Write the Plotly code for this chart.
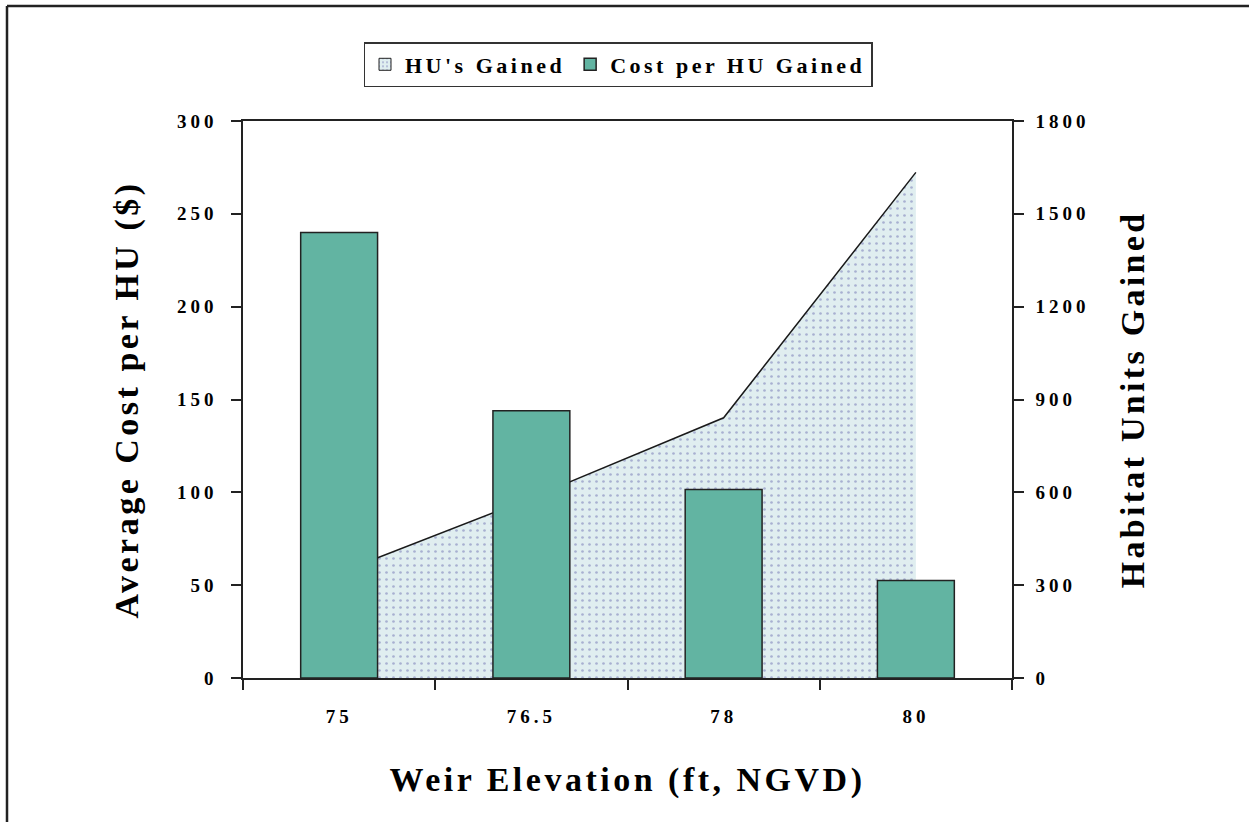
import plotly.graph_objects as go

categories = ["75", "76.5", "78", "80"]
cost_per_hu = [240, 144, 101.5, 52.5]
hu_gained = [340, 582, 841, 1634]
left_ticks = [0, 50, 100, 150, 200, 250, 300]
right_ticks = [0, 300, 600, 900, 1200, 1500, 1800]

FONT = "Liberation Serif"
W, H = 1249, 822
L, R, T, B = 243, 1012, 121, 678

def px(x):
    return (x - L) / (R - L)

def py(y):
    return (B - y) / (B - T)

AREA_BG = "#e0eef0"
AREA_DOT = "#6f72b2"
BAR = "#62b4a2"

fig = go.Figure()

# legend swatch for the area series (no data drawn)
fig.add_trace(go.Bar(
    x=[None], y=[None], name="HU's Gained",
    marker=dict(color=AREA_BG, line=dict(color="#222222", width=1),
                pattern=dict(shape=".", fgcolor=AREA_DOT, bgcolor=AREA_BG, size=5, solidity=0.2)),
    yaxis="y", xaxis="x", showlegend=True,
))
# area on base axis (drawn beneath), HU on right side
fig.add_trace(go.Scatter(
    x=categories, y=hu_gained, name="HU's Gained", mode="lines",
    line=dict(color="#1a1a1a", width=1.5), fill="tozeroy",
    fillcolor=AREA_BG,
    fillpattern=dict(shape=".", fgcolor=AREA_DOT, bgcolor=AREA_BG, size=7, solidity=0.12),
    yaxis="y", xaxis="x", showlegend=False,
))
# bars on overlay axis (drawn on top), cost on left side
fig.add_trace(go.Bar(
    x=categories, y=cost_per_hu, name="Cost per HU Gained",
    marker=dict(color=BAR, line=dict(color="#222222", width=1.5)),
    width=0.4, yaxis="y2", xaxis="x",
))

tickfont = dict(family=FONT, size=19, color="black", weight="bold")
titlefont = dict(family=FONT, size=34, color="black", weight="bold")

fig.update_layout(
    width=W, height=H,
    margin=dict(l=L, r=W - R, t=T, b=H - B),
    paper_bgcolor="white", plot_bgcolor="white",
    showlegend=True, barmode="overlay",
    legend=dict(
        orientation="h", x=px(618), xanchor="center", y=py(42), yanchor="top",
        font=dict(family=FONT, size=22, color="black", weight="bold"),
        bordercolor="#333333", borderwidth=1.5, bgcolor="white",
        traceorder="normal", itemwidth=30,
    ),
    xaxis=dict(
        type="category", showline=True, linecolor="#222", linewidth=1.5,
        ticks="outside", tickson="boundaries", ticklen=10, tickwidth=1.5, tickcolor="#222",
        tickfont=tickfont, showgrid=False, zeroline=False, mirror=True,
        ticklabelstandoff=20,
        title=dict(text="Weir Elevation (ft, NGVD)", font=titlefont, standoff=42),
        range=[-0.5, 3.5],
    ),
    yaxis=dict(
        side="right", range=[0, 1800], tickvals=right_ticks,
        showline=True, linecolor="#222", linewidth=1.5,
        ticks="outside", ticklen=10, tickwidth=1.5, tickcolor="#222",
        tickfont=tickfont, showgrid=False, zeroline=False, ticklabelstandoff=8,
        title=dict(text="Habitat Units Gained", font=titlefont, standoff=48),
    ),
    yaxis2=dict(
        side="left", overlaying="y", range=[0, 300], tickvals=left_ticks,
        showline=True, linecolor="#222", linewidth=1.5,
        ticks="outside", ticklen=10, tickwidth=1.5, tickcolor="#222",
        tickfont=tickfont, showgrid=False, zeroline=False, ticklabelstandoff=10,
        title=dict(text="Average Cost per HU ($)", font=titlefont, standoff=40),
    ),
    shapes=[
        dict(type="line", xref="paper", yref="paper", x0=px(7), x1=px(1249), y0=py(6), y1=py(6),
             line=dict(color="#222", width=2.5)),
        dict(type="line", xref="paper", yref="paper", x0=px(7), x1=px(7), y0=py(6), y1=py(822),
             line=dict(color="#222", width=2.5)),
    ],
)

post = """
var gd = document.getElementById('{plot_id}');
document.body.style.margin = '0';
var s = document.createElement('style');
s.innerHTML = '.legendtext{letter-spacing:3.5px} .xtick text,.ytick text,.y2tick text{letter-spacing:4px} .xtitle{letter-spacing:3.5px} .ytitle{letter-spacing:3.3px} .y2title{letter-spacing:3.5px}';
document.head.appendChild(s);
gd.layout.legend.font.family = 'Liberation Serif, serif';
Plotly.newPlot(gd, gd.data, gd.layout, {displayModeBar: false, responsive: false});
"""

fig.write_html("out.html", post_script=post, config={"displayModeBar": False})
